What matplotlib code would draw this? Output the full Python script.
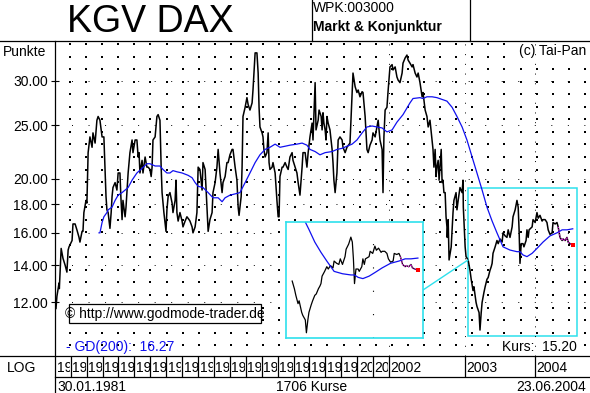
import matplotlib
matplotlib.use('Agg')
import matplotlib.pyplot as plt
from matplotlib.patches import Rectangle
from matplotlib.ticker import NullLocator
from matplotlib.transforms import Bbox, TransformedBbox
import numpy as np

plt.rcParams['font.family'] = ['Liberation Sans', 'DejaVu Sans']

W, H = 590, 393

## KGV of the DAX (x = number of the Kurs, 0..1705)
kurs_idx = [0, 3, 10, 11, 17, 20, 23, 30, 36, 40,
            43, 53, 56, 63, 69, 76, 79, 86, 89, 92,
            99, 102, 106, 112, 119, 122, 129, 135, 139, 145,
            152, 158, 165, 168, 172, 178, 182, 185, 188, 195,
            201, 205, 211, 214, 218, 221, 228, 231, 238, 244,
            251, 254, 261, 267, 271, 274, 277, 284, 287, 294,
            300, 304, 310, 314, 317, 320, 327, 333, 337, 343,
            347, 350, 356, 363, 366, 370, 376, 383, 386, 393,
            396, 399, 403, 409, 416, 419, 426, 432, 439, 442,
            449, 452, 459, 465, 469, 475, 482, 485, 492, 498,
            502, 508, 515, 518, 525, 531, 535, 541, 548, 551,
            558, 564, 568, 574, 581, 584, 591, 597, 601, 604,
            611, 614, 617, 624, 630, 634, 640, 647, 650, 657,
            663, 667, 670, 673, 680, 683, 686, 690, 696, 700,
            703, 706, 713, 716, 723, 729, 733, 736, 739, 746,
            749, 756, 762, 766, 772, 779, 782, 789, 795, 799,
            805, 812, 815, 822, 828, 832, 838, 845, 848, 855,
            858, 865, 868, 875, 878, 881, 884, 888, 891, 894,
            898, 904, 911, 914, 917, 921, 927, 931, 937, 944,
            947, 954, 960, 970, 977, 980, 987, 993, 997, 1003,
            1010, 1013, 1020, 1026, 1030, 1036, 1043, 1046, 1053, 1059,
            1063, 1069, 1076, 1079, 1082, 1086, 1092, 1096, 1102, 1109,
            1112, 1119, 1125, 1129, 1135, 1142, 1145, 1152, 1158, 1162,
            1168, 1175, 1178, 1185, 1191, 1195, 1201, 1208, 1211, 1218,
            1224, 1228, 1234, 1241, 1244, 1247, 1251, 1254, 1257, 1261,
            1264, 1271, 1274, 1277, 1280, 1284, 1287, 1290, 1291, 1294,
            1297, 1304, 1310, 1313, 1320, 1323, 1327, 1333, 1340, 1343,
            1344, 1350, 1353, 1360, 1366, 1370, 1376, 1379, 1386, 1389,
            1396, 1399, 1403, 1406, 1412, 1416, 1422, 1426, 1432, 1436,
            1439, 1442, 1449, 1455, 1459, 1465, 1472, 1475, 1482, 1488,
            1492, 1498, 1505, 1508, 1515, 1521, 1525, 1528, 1531, 1535,
            1541, 1544, 1551, 1554, 1558, 1561, 1571, 1574, 1581, 1587,
            1591, 1597, 1604, 1607, 1614, 1620, 1624, 1630, 1637, 1640,
            1647, 1653, 1657, 1663, 1670, 1673, 1680, 1686, 1690, 1696, 1705]
kgv = [11.7, 12.3, 13.0, 12.7, 15.0, 14.7, 14.4, 14.0, 13.6, 14.9,
       15.1, 15.5, 16.6, 16.6, 16.2, 15.7, 15.4, 16.1, 16.1, 17.4,
       18.3, 18.1, 22.3, 23.8, 22.8, 24.2, 23.2, 25.5, 25.9, 25.5,
       23.8, 23.8, 18.6, 17.6, 17.4, 16.3, 17.4, 18.6, 19.3, 19.7,
       19.1, 20.5, 20.5, 18.6, 16.9, 18.3, 17.1, 17.8, 20.5, 22.3,
       23.5, 22.3, 23.5, 23.5, 21.9, 22.3, 20.5, 21.6, 20.5, 21.9,
       21.0, 21.0, 20.8, 20.2, 21.0, 23.5, 23.8, 25.9, 26.1, 25.5,
       21.0, 18.9, 17.4, 16.1, 17.6, 18.6, 18.9, 18.1, 17.4, 18.3,
       19.9, 17.4, 16.8, 17.4, 16.8, 16.4, 16.8, 17.1, 16.9, 16.8,
       16.4, 16.0, 16.4, 17.4, 21.0, 20.8, 19.1, 21.4, 20.8, 17.8,
       16.1, 16.9, 17.4, 18.9, 19.7, 21.0, 22.6, 20.5, 18.9, 19.7,
       20.2, 21.4, 21.4, 22.1, 22.6, 22.6, 21.0, 19.9, 17.8, 17.2,
       18.6, 21.0, 25.9, 26.9, 28.0, 27.2, 26.6, 27.4, 28.9, 33.7,
       33.7, 31.0, 26.9, 24.8, 24.2, 23.8, 22.6, 21.9, 22.3, 24.2,
       21.4, 20.8, 21.0, 21.4, 20.5, 18.3, 17.1, 17.1, 20.2, 21.0,
       21.0, 21.4, 21.0, 20.8, 21.9, 22.3, 21.6, 21.0, 20.5, 19.7,
       18.7, 21.0, 22.3, 22.3, 21.0, 22.3, 23.8, 25.2, 23.5, 29.8,
       24.5, 25.5, 26.6, 25.9, 24.5, 26.3, 25.2, 24.5, 23.5, 25.9,
       25.2, 24.5, 22.6, 21.4, 19.9, 18.9, 20.5, 23.5, 23.8, 23.5,
       22.8, 22.3, 22.8, 23.2, 28.6, 31.0, 29.3, 28.6, 28.9, 28.1,
       28.7, 28.6, 25.9, 22.6, 22.3, 23.0, 23.5, 24.2, 23.8, 24.8,
       25.5, 23.5, 22.6, 18.9, 23.8, 26.6, 26.9, 28.9, 31.8, 32.1,
       31.4, 31.8, 30.5, 30.1, 29.8, 31.0, 32.3, 33.0, 33.4, 32.7,
       32.3, 31.8, 32.1, 31.0, 30.5, 31.0, 29.8, 28.1, 28.6, 26.6,
       25.9, 24.8, 25.5, 23.5, 22.6, 21.0, 22.6, 20.2, 21.0, 21.6,
       19.9, 22.6, 19.7, 19.9, 18.9, 18.9, 17.1, 16.4, 15.7, 16.9,
       14.3, 15.1, 17.4, 18.3, 18.9, 17.6, 18.3, 19.3, 18.9, 19.9,
       17.8, 15.1, 14.5, 14.3, 13.7, 13.2, 12.6, 12.8, 12.0, 11.8,
       11.5, 10.7, 11.5, 12.0, 12.5, 12.8, 13.2, 13.3, 13.7, 13.9,
       14.1, 14.7, 15.1, 15.5, 15.3, 15.6, 15.4, 16.0, 15.8, 15.7,
       16.2, 15.7, 16.4, 17.1, 17.6, 18.3, 17.8, 16.2, 14.1, 15.3,
       15.3, 15.1, 15.5, 16.2, 15.7, 16.2, 16.4, 16.9, 16.7, 17.4,
       17.0, 17.2, 16.8, 16.9, 16.9, 16.7, 16.2, 15.9, 16.0, 16.7,
       16.6, 16.7, 16.4, 15.7, 15.5, 15.6, 15.5, 15.7, 15.4, 15.3, 15.2]

## 200er Durchschnitt (GD 200)
gd_idx = [142, 145, 152, 158, 168, 172, 185, 195, 205, 218,
          228, 238, 251, 267, 284, 300, 310, 327, 343, 353,
          366, 376, 386, 399, 416, 436, 449, 459, 469, 485,
          502, 518, 535, 548, 558, 574, 591, 607, 624, 640,
          657, 673, 690, 706, 723, 739, 756, 772, 795, 812,
          828, 838, 855, 871, 888, 911, 927, 944, 960, 977,
          993, 1010, 1026, 1043, 1059, 1076, 1092, 1109, 1125, 1145,
          1168, 1178, 1201, 1211, 1224, 1241, 1257, 1290, 1307, 1323,
          1340, 1356, 1373, 1389, 1406, 1422, 1439, 1455, 1475, 1498,
          1521, 1531, 1541, 1554, 1571, 1587, 1607, 1630, 1653, 1670, 1686, 1705]
gd200 = [16.0, 16.0, 16.7, 17.1, 17.4, 17.6, 17.8, 18.3, 18.7, 18.9,
         19.1, 19.3, 19.9, 20.5, 20.9, 21.3, 21.3, 21.1, 21.1, 20.8,
         20.5, 20.5, 20.7, 20.6, 20.5, 20.3, 20.1, 19.7, 19.4, 19.3,
         18.9, 18.5, 18.5, 18.2, 18.5, 18.7, 18.8, 18.9, 19.7, 20.5,
         21.4, 22.1, 22.6, 22.8, 23.1, 22.8, 22.9, 23.0, 23.1, 23.2,
         23.0, 22.6, 22.4, 22.1, 22.3, 22.4, 22.6, 22.7, 22.9, 23.1,
         23.5, 24.2, 24.8, 24.9, 24.8, 24.7, 24.3, 24.5, 25.3, 26.1,
         27.4, 27.9, 28.0, 27.9, 28.1, 28.1, 28.0, 27.6, 26.9, 25.9,
         24.8, 23.5, 21.9, 20.5, 19.1, 17.8, 16.8, 16.0, 15.1, 14.9,
         14.8, 14.8, 14.6, 14.5, 14.7, 15.0, 15.4, 15.8, 16.0, 16.2, 16.2, 16.27]

years = list(range(1981, 2005))
year_start = [-3, 49, 101, 154, 206, 259, 311, 364, 416, 469, 521, 574,
              626, 679, 731, 784, 836, 889, 941, 994, 1046, 1099, 1350, 1581]
y_ticks = [12, 14, 16, 18, 20, 25, 30]

n_kurse = 1706
kurs_last = 15.20
gd_last = 16.27
tail_start = 1657          # last stretch drawn as a short-term trend
zoom_x = (1360, 1719)      # window shown enlarged in the inset
zoom_y = (10.43, 19.26)

assert len(kurs_idx) == len(kgv) and len(gd_idx) == len(gd200)
kurs_idx = np.array(kurs_idx); kgv = np.array(kgv)

XLIM = (-3.3, 1762)
YLIM = (9.61, 35.4)
CYAN = '#2ee0ec'
BLUE = '#1010f0'


def box(x0, y0, x1, y1):
    return [x0 / W, 1 - y1 / H, (x1 - x0) / W, (y1 - y0) / H]


fig = plt.figure(figsize=(W / 100, H / 100), dpi=100)

## pixel canvas for frame, dots and labels
bg = fig.add_axes([0, 0, 1, 1])
bg.set_xlim(0, W); bg.set_ylim(H, 0); bg.axis('off')

gx = 70 + 16.09 * np.arange(0, 33)
gy = 44 + 12.55 * np.arange(0, 25)
GX, GY = np.meshgrid(gx, gy)
bg.scatter(GX.ravel(), GY.ravel(), s=0.6, c='k', marker='s', linewidths=0)

lw = 0.9
bg.plot([0, W], [41, 41], color='k', lw=lw)
bg.plot([0, W], [356, 356], color='k', lw=lw)
bg.plot([55, W], [377, 377], color='k', lw=lw)
bg.plot([55, 55], [41, H], color='k', lw=lw)
bg.plot([311.5, 311.5], [0, 41], color='k', lw=lw)
bg.plot([469.5, 469.5], [0, 41], color='k', lw=lw)

bg.text(67, 32, 'KGV DAX', fontsize=27, va='baseline')
bg.text(313, 12, 'WPK:003000', fontsize=10, va='baseline')
bg.text(313, 31, 'Markt & Konjunktur', fontsize=10, fontweight='bold', va='baseline')
bg.text(3, 56, 'Punkte', fontsize=10, va='baseline')
bg.text(586, 55, '(c) Tai-Pan', fontsize=10, va='baseline', ha='right',
        bbox=dict(fc='white', ec='none', pad=0.5))
bg.text(66, 351, f'- GD(200):  {gd_last:.2f}', fontsize=10, va='baseline', color=BLUE)
bg.text(577, 351, f'Kurs:  {kurs_last:.2f}', fontsize=10, va='baseline', ha='right',
        bbox=dict(fc='white', ec='none', pad=0.5))
bg.text(22, 372, 'LOG', fontsize=10, va='baseline', ha='center')
bg.text(57, 391, '30.01.1981', fontsize=10, va='baseline')
bg.text(312, 391, f'{n_kurse} Kurse', fontsize=10, va='baseline', ha='center')
bg.text(586, 391, '23.06.2004', fontsize=10, va='baseline', ha='right')

## main chart
ax = fig.add_axes(box(55, 41, 590, 356), facecolor='none')
ax.set_yscale('log')
ax.set_xlim(*XLIM)
ax.set_ylim(*YLIM)
ax.yaxis.set_minor_locator(NullLocator())
ax.set_yticks(y_ticks)
ax.set_yticklabels([f'{t:.2f}' for t in y_ticks])
ax.set_xticks([])
ax.tick_params(axis='y', direction='inout', length=6, width=0.8, pad=2, labelsize=10)
for s in ax.spines.values():
    s.set_visible(False)
ax.yaxis.grid(True, color='k', lw=0.7, ls=(0, (1, 16)))
for xs in year_start[-3:]:
    ax.axvline(xs, color='k', lw=0.7, ls=(0, (1, 9)))

ax.plot(kurs_idx, kgv, color='k', lw=1.1)
ax.plot(gd_idx, gd200, color=BLUE, lw=0.9)
tail = kurs_idx >= tail_start
ax.plot(kurs_idx[tail], kgv[tail], color='#e020e0', lw=0.9, ls=(0, (1, 1)))
ax.plot(kurs_idx[-1], kgv[-1], 's', color='red', ms=2.2, mew=0)
ax.add_patch(Rectangle((zoom_x[0], zoom_y[0]), zoom_x[1] - zoom_x[0], zoom_y[1] - zoom_y[0],
                       fill=False, ec=CYAN, lw=1.1))

## year row, each label clipped to its cell
yax = fig.add_axes(box(55, 356, 590, 377), facecolor='none')
yax.set_xlim(*XLIM); yax.set_ylim(0, 1); yax.axis('off')
bounds = year_start + [XLIM[1]]
for i, yr in enumerate(years):
    if i > 0:
        yax.plot([year_start[i]] * 2, [0, 1], color='k', lw=lw)
    t = yax.text(bounds[i] + 5, 0.23, str(yr), fontsize=10, va='baseline')
    t.set_clip_on(True)
    t.set_clip_box(TransformedBbox(Bbox([[bounds[i], 0], [bounds[i + 1] - 2, 1]]),
                                   yax.transData))

## overlay: copyright box and zoom connector
ov = fig.add_axes([0, 0, 1, 1], facecolor='none')
ov.set_xlim(0, W); ov.set_ylim(H, 0); ov.axis('off')
ov.add_patch(Rectangle((69, 304), 192, 19, fc='white', ec='k', lw=lw))
ov.text(165, 318, '\u00a9 http://www.godmode-trader.de', fontsize=10, va='baseline', ha='center')
ov.plot([423, 468], [290, 260], color=CYAN, lw=1.0)

## inset: enlarged last part
ins = fig.add_axes(box(286, 222, 423, 338), facecolor='white')
ins.set_yscale('log')
ins.set_xlim(1343, 1719)
ins.set_ylim(10.39, 19.92)
ins.set_xticks([]); ins.set_yticks([])
ins.yaxis.set_minor_locator(NullLocator())
for s in ins.spines.values():
    s.set_color(CYAN); s.set_linewidth(1.2)
ins.axvline(year_start[-1], color='k', lw=0.8, ls=(0, (1, 20)))
win = kurs_idx >= zoom_x[0]
ins.plot(kurs_idx[win], kgv[win], color='k', lw=0.9)
ins.plot(gd_idx, gd200, color=BLUE, lw=0.9)
ins.plot(kurs_idx[tail], kgv[tail], color='#e020e0', lw=0.9, ls=(0, (1, 1)))
ins.plot(kurs_idx[-1], kgv[-1], 's', color='red', ms=2.2, mew=0)

fig.savefig('out.png', dpi=100)
